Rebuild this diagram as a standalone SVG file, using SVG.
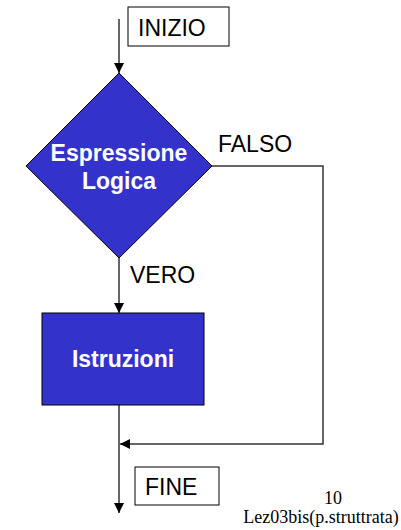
<svg xmlns="http://www.w3.org/2000/svg" width="401" height="530" viewBox="0 0 401 530">
  <defs>
    <marker id="arrow" viewBox="0 0 10 10" refX="10" refY="5" markerWidth="10" markerHeight="10" markerUnits="userSpaceOnUse" orient="auto">
      <path d="M0,0 L10,5 L0,10 Z" fill="#000"/>
    </marker>
    <style>
      .box { fill: #fff; stroke: #000; stroke-width: 1; }
      .shape { fill: #3333CC; stroke: #000; stroke-width: 1; }
      .lbl { font-family: "Liberation Sans", Arial, sans-serif; font-size: 23px; fill: #000; }
      .in { font-family: "Liberation Sans", Arial, sans-serif; font-size: 23px; font-weight: bold; fill: #fff; text-anchor: middle; }
      .foot { font-family: "Liberation Serif", "Times New Roman", serif; font-size: 18px; fill: #000; text-anchor: middle; }
      .wire { fill: none; stroke: #333; stroke-width: 1.5; }
    </style>
  </defs>
  <rect width="401" height="530" fill="#fff"/>

  <g id="connectors">
    <line class="wire" x1="119" y1="19" x2="119" y2="73" marker-end="url(#arrow)"/>
    <polyline class="wire" points="212,166 323,166 323,444 120,444" marker-end="url(#arrow)"/>
    <line class="wire" x1="119" y1="258" x2="119" y2="313" marker-end="url(#arrow)"/>
    <line class="wire" x1="119" y1="405" x2="119" y2="513" marker-end="url(#arrow)"/>
  </g>

  <g id="start">
    <rect class="box" x="128" y="7" width="101" height="39"/>
    <text class="lbl" x="138" y="36">INIZIO</text>
  </g>

  <g id="condition">
    <polygon class="shape" points="119,73 212,166 119,258 26,166"/>
    <text class="in" x="119" y="161">Espressione</text>
    <text class="in" x="119" y="189">Logica</text>
  </g>

  <g id="label-false">
    <text class="lbl" x="218" y="152">FALSO</text>
  </g>

  <g id="label-true">
    <text class="lbl" x="130" y="283">VERO</text>
  </g>

  <g id="statements">
    <rect class="shape" x="42" y="313" width="162" height="92"/>
    <text class="in" x="123" y="367">Istruzioni</text>
  </g>

  <g id="end">
    <rect class="box" x="135" y="467" width="84" height="38"/>
    <text class="lbl" x="145" y="495">FINE</text>
  </g>

  <g id="footer">
    <text class="foot" x="333" y="504">10</text>
    <text class="foot" x="321" y="523">Lez03bis(p.struttrata)</text>
  </g>
</svg>
